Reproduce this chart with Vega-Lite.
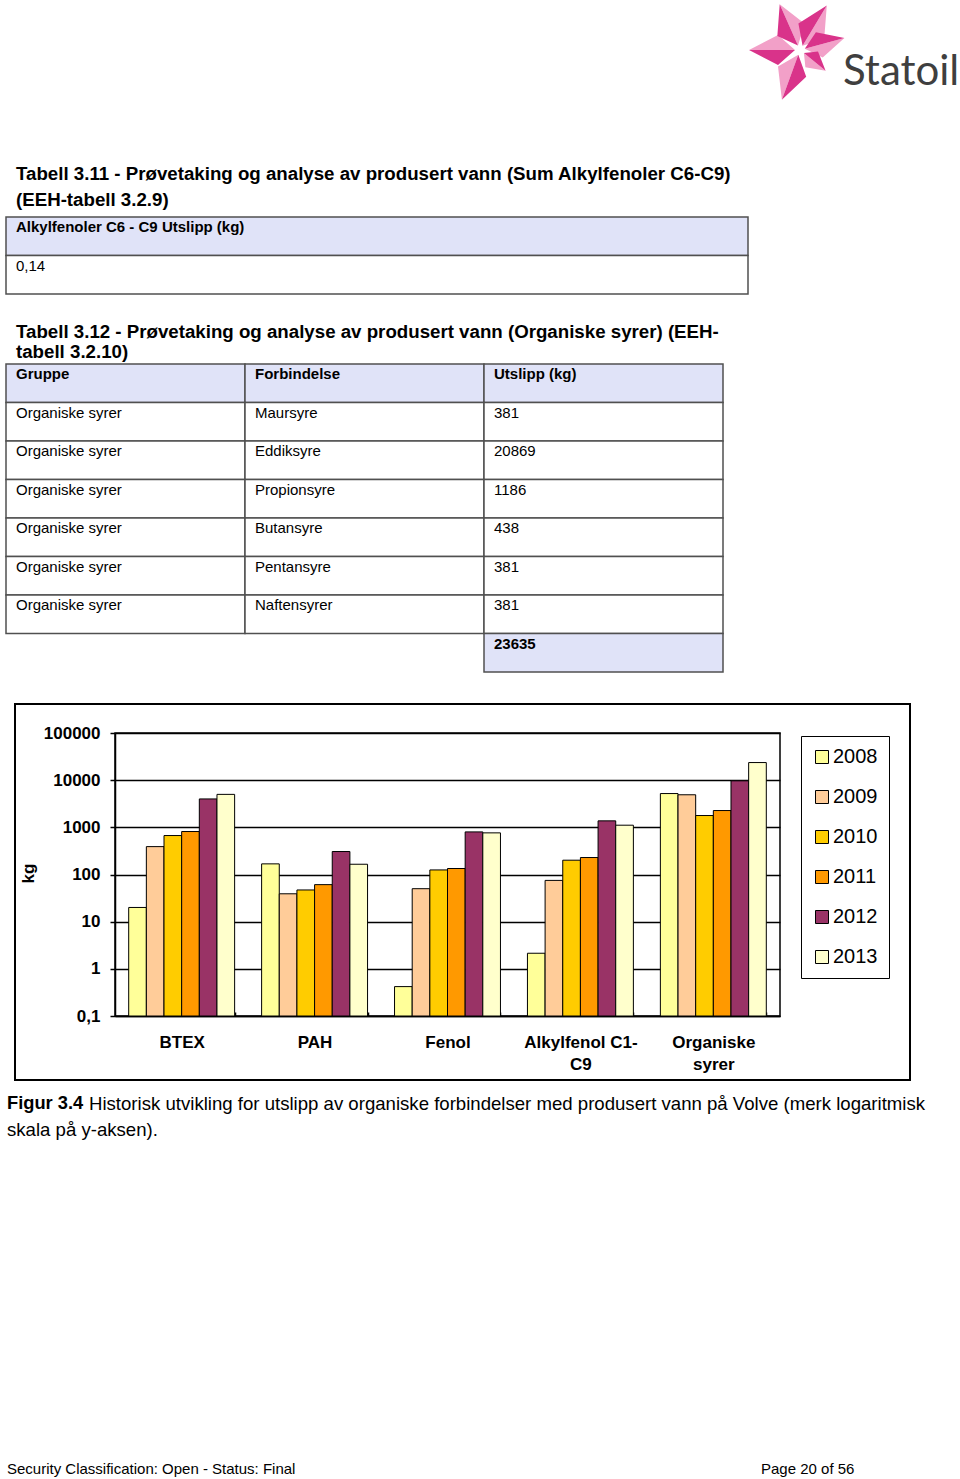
{
  "$schema": "https://vega.github.io/schema/vega-lite/v6.json",
  "background": "white",
  "padding": {"left": 5, "top": 0, "right": 0, "bottom": 0},
  "spacing": 0,
  "resolve": {"scale": {"color": "independent"}, "legend": {"color": "independent"}},
  "config": {
    "view": {"stroke": null},
    "font": "Liberation Sans",
    "text": {"font": "Liberation Sans", "color": "black"}
  },
  "vconcat": [
    {
      "hconcat": [
        {
          "width": 743, "height": 150,
          "data": {"values": [{}]},
          "mark": {"type": "text"},
          "encoding": {"text": {"value": ""}}
        },
        {
          "width": 100, "height": 100,
          "data": {"values": [{"firma": "Statoil"}]},
          "layer": [
            {
              "mark": {"type": "point", "shape": "M-2,-4.6L4.75,-26.2L-20.3,-45.7ZM2.6,-4.3L24.2,-11.2L26.8,-44.6ZM4.8,-1.3L22.7,7.4L44.4,-11.9ZM3.9,3.1L5.4,17.2L25.6,20.8ZM-1.7,4.7L-22,16.5L-18.1,49.8ZM-5,0L-22,-15L-51,0Z", "size": 4, "filled": true, "fill": "#F2A0C8", "opacity": 1, "strokeWidth": 0},
              "encoding": {}
            },
            {
              "mark": {"type": "point", "shape": "M-2,-4.6L-22.65,-14L-20.3,-45.7ZM2.6,-4.3L-1.6,-26.6L26.8,-44.6ZM4.8,-1.3L15.9,-17.8L44.4,-11.9ZM3.9,3.1L18,1.6L25.6,20.8ZM-1.7,4.7L6.2,26.7L-18.1,49.8ZM-5,0L-22,15L-51,0Z", "size": 4, "filled": true, "fill": "#D9338A", "opacity": 1, "strokeWidth": 0},
              "encoding": {}
            },
            {
              "mark": {"type": "text", "align": "left", "baseline": "alphabetic", "dx": 43, "dy": 35, "font": "Lato", "fontSize": 42, "color": "#3f3f3f"},
              "encoding": {"text": {"field": "firma"}}
            }
          ]
        }
      ],
      "spacing": 0
    },
    {
      "width": 742, "height": 66,
      "data": {"values": [
        {"linje": 1, "tekst": "Tabell 3.11 - Prøvetaking og analyse av produsert vann (Sum Alkylfenoler C6-C9)"},
        {"linje": 2, "tekst": "(EEH-tabell 3.2.9)"}
      ]},
      "mark": {"type": "text", "align": "left", "baseline": "middle", "dx": 10, "fontSize": 18.7, "fontWeight": "bold"},
      "encoding": {
        "x": {"datum": 0, "type": "quantitative", "scale": {"domain": [0, 1]}, "axis": null},
        "y": {"field": "linje", "type": "ordinal", "scale": {"type": "point", "range": [24, 50], "padding": 0}, "axis": null},
        "text": {"field": "tekst"}
      }
    },
    {
      "width": 742, "height": 77,
      "data": {"values": [
        {"rad": 0, "kol": 0, "tekst": "Alkylfenoler C6 - C9 Utslipp (kg)", "type": "header"},
        {"rad": 1, "kol": 0, "tekst": "0,14", "type": "body"}
      ]},
      "layer": [
        {
          "mark": {"type": "rect", "stroke": "#505050", "strokeWidth": 1.5},
          "encoding": {
            "x": {"field": "kol", "type": "ordinal", "axis": null, "scale": {"type": "band", "paddingInner": 0, "paddingOuter": 0}},
            "y": {"field": "rad", "type": "ordinal", "axis": null, "scale": {"type": "band", "paddingInner": 0, "paddingOuter": 0}},
            "color": {"field": "type", "type": "nominal", "legend": null, "scale": {"domain": ["header", "body", "total"], "range": ["#E0E3F8", "#FFFFFF", "#E0E3F8"]}}
          }
        },
        {
          "transform": [{"filter": "datum.type == 'body'"}],
          "mark": {"type": "text", "align": "left", "baseline": "top", "dx": 10, "dy": 3, "fontSize": 15},
          "encoding": {
            "x": {"field": "kol", "type": "ordinal", "bandPosition": 0},
            "y": {"field": "rad", "type": "ordinal", "bandPosition": 0},
            "text": {"field": "tekst"}
          }
        },
        {
          "transform": [{"filter": "datum.type != 'body'"}],
          "mark": {"type": "text", "align": "left", "baseline": "top", "dx": 10, "dy": 3, "fontSize": 15, "fontWeight": "bold"},
          "encoding": {
            "x": {"field": "kol", "type": "ordinal", "bandPosition": 0},
            "y": {"field": "rad", "type": "ordinal", "bandPosition": 0},
            "text": {"field": "tekst"}
          }
        }
      ]
    },
    {
      "width": 742, "height": 67.5,
      "data": {"values": [
        {"linje": 1, "tekst": "Tabell 3.12 - Prøvetaking og analyse av produsert vann (Organiske syrer) (EEH-"},
        {"linje": 2, "tekst": "tabell 3.2.10)"}
      ]},
      "mark": {"type": "text", "align": "left", "baseline": "middle", "dx": 10, "fontSize": 18.7, "fontWeight": "bold"},
      "encoding": {
        "x": {"datum": 0, "type": "quantitative", "scale": {"domain": [0, 1]}, "axis": null},
        "y": {"field": "linje", "type": "ordinal", "scale": {"type": "point", "range": [37, 57], "padding": 0}, "axis": null},
        "text": {"field": "tekst"}
      }
    },
    {
      "width": 717, "height": 308,
      "data": {"values": [
        {"rad": 0, "kol": 0, "tekst": "Gruppe", "type": "header"},
        {"rad": 0, "kol": 1, "tekst": "Forbindelse", "type": "header"},
        {"rad": 0, "kol": 2, "tekst": "Utslipp (kg)", "type": "header"},
        {"rad": 1, "kol": 0, "tekst": "Organiske syrer", "type": "body"},
        {"rad": 1, "kol": 1, "tekst": "Maursyre", "type": "body"},
        {"rad": 1, "kol": 2, "tekst": "381", "type": "body"},
        {"rad": 2, "kol": 0, "tekst": "Organiske syrer", "type": "body"},
        {"rad": 2, "kol": 1, "tekst": "Eddiksyre", "type": "body"},
        {"rad": 2, "kol": 2, "tekst": "20869", "type": "body"},
        {"rad": 3, "kol": 0, "tekst": "Organiske syrer", "type": "body"},
        {"rad": 3, "kol": 1, "tekst": "Propionsyre", "type": "body"},
        {"rad": 3, "kol": 2, "tekst": "1186", "type": "body"},
        {"rad": 4, "kol": 0, "tekst": "Organiske syrer", "type": "body"},
        {"rad": 4, "kol": 1, "tekst": "Butansyre", "type": "body"},
        {"rad": 4, "kol": 2, "tekst": "438", "type": "body"},
        {"rad": 5, "kol": 0, "tekst": "Organiske syrer", "type": "body"},
        {"rad": 5, "kol": 1, "tekst": "Pentansyre", "type": "body"},
        {"rad": 5, "kol": 2, "tekst": "381", "type": "body"},
        {"rad": 6, "kol": 0, "tekst": "Organiske syrer", "type": "body"},
        {"rad": 6, "kol": 1, "tekst": "Naftensyrer", "type": "body"},
        {"rad": 6, "kol": 2, "tekst": "381", "type": "body"},
        {"rad": 7, "kol": 2, "tekst": "23635", "type": "total"}
      ]},
      "layer": [
        {
          "mark": {"type": "rect", "stroke": "#505050", "strokeWidth": 1.5},
          "encoding": {
            "x": {"field": "kol", "type": "ordinal", "axis": null, "scale": {"type": "band", "paddingInner": 0, "paddingOuter": 0}},
            "y": {"field": "rad", "type": "ordinal", "axis": null, "scale": {"type": "band", "paddingInner": 0, "paddingOuter": 0}},
            "color": {"field": "type", "type": "nominal", "legend": null, "scale": {"domain": ["header", "body", "total"], "range": ["#E0E3F8", "#FFFFFF", "#E0E3F8"]}}
          }
        },
        {
          "transform": [{"filter": "datum.type == 'body'"}],
          "mark": {"type": "text", "align": "left", "baseline": "top", "dx": 10, "dy": 3, "fontSize": 15},
          "encoding": {
            "x": {"field": "kol", "type": "ordinal", "bandPosition": 0},
            "y": {"field": "rad", "type": "ordinal", "bandPosition": 0},
            "text": {"field": "tekst"}
          }
        },
        {
          "transform": [{"filter": "datum.type != 'body'"}],
          "mark": {"type": "text", "align": "left", "baseline": "top", "dx": 10, "dy": 3, "fontSize": 15, "fontWeight": "bold"},
          "encoding": {
            "x": {"field": "kol", "type": "ordinal", "bandPosition": 0},
            "y": {"field": "rad", "type": "ordinal", "bandPosition": 0},
            "text": {"field": "tekst"}
          }
        }
      ]
    },
    {
      "width": 1, "height": 28.5,
      "data": {"values": [{}]},
      "mark": {"type": "text"},
      "encoding": {"text": {"value": ""}}
    },
    {
      "hconcat": [
        {
          "width": 7, "height": 1,
          "data": {"values": [{}]},
          "mark": {"type": "text"},
          "encoding": {"text": {"value": ""}}
        },
        {
          "width": 665, "height": 283,
          "view": {"stroke": "black", "strokeWidth": 1.5, "fill": "white"},
          "layer": [
            {
              "data": {"values": [{"ramme": "figur"}]},
              "mark": {"type": "rect", "fill": "white", "fillOpacity": 0, "stroke": "black", "strokeWidth": 2},
              "encoding": {
                "x": {"datum": 0, "type": "quantitative", "scale": {"domain": [0, 1], "range": [-100, 795], "nice": false, "zero": false}, "axis": null},
                "x2": {"datum": 1},
                "y": {"datum": 0, "type": "quantitative", "scale": {"domain": [0, 1], "range": [-29, 347], "nice": false, "zero": false}, "axis": null},
                "y2": {"datum": 1}
              }
            },
            {
              "data": {"values": [
                {"gruppe": "BTEX", "aar": "2008", "kg": 20},
                {"gruppe": "BTEX", "aar": "2009", "kg": 390},
                {"gruppe": "BTEX", "aar": "2010", "kg": 670},
                {"gruppe": "BTEX", "aar": "2011", "kg": 815},
                {"gruppe": "BTEX", "aar": "2012", "kg": 4000},
                {"gruppe": "BTEX", "aar": "2013", "kg": 5000},
                {"gruppe": "PAH", "aar": "2008", "kg": 168},
                {"gruppe": "PAH", "aar": "2009", "kg": 39},
                {"gruppe": "PAH", "aar": "2010", "kg": 47},
                {"gruppe": "PAH", "aar": "2011", "kg": 61},
                {"gruppe": "PAH", "aar": "2012", "kg": 307},
                {"gruppe": "PAH", "aar": "2013", "kg": 165},
                {"gruppe": "Fenol", "aar": "2008", "kg": 0.42},
                {"gruppe": "Fenol", "aar": "2009", "kg": 50},
                {"gruppe": "Fenol", "aar": "2010", "kg": 125},
                {"gruppe": "Fenol", "aar": "2011", "kg": 134},
                {"gruppe": "Fenol", "aar": "2012", "kg": 800},
                {"gruppe": "Fenol", "aar": "2013", "kg": 763},
                {"gruppe": "Alkylfenol C1-C9", "aar": "2008", "kg": 2.14},
                {"gruppe": "Alkylfenol C1-C9", "aar": "2009", "kg": 75},
                {"gruppe": "Alkylfenol C1-C9", "aar": "2010", "kg": 201},
                {"gruppe": "Alkylfenol C1-C9", "aar": "2011", "kg": 229},
                {"gruppe": "Alkylfenol C1-C9", "aar": "2012", "kg": 1371},
                {"gruppe": "Alkylfenol C1-C9", "aar": "2013", "kg": 1110},
                {"gruppe": "Organiske syrer", "aar": "2008", "kg": 5200},
                {"gruppe": "Organiske syrer", "aar": "2009", "kg": 4900},
                {"gruppe": "Organiske syrer", "aar": "2010", "kg": 1780},
                {"gruppe": "Organiske syrer", "aar": "2011", "kg": 2270},
                {"gruppe": "Organiske syrer", "aar": "2012", "kg": 9680},
                {"gruppe": "Organiske syrer", "aar": "2013", "kg": 23635}
              ]},
              "mark": {"type": "bar", "stroke": "black", "strokeWidth": 1},
              "encoding": {
                "x": {
                  "field": "gruppe", "type": "nominal",
                  "sort": ["BTEX", "PAH", "Fenol", "Alkylfenol C1-C9", "Organiske syrer"],
                  "scale": {"paddingInner": 0.203, "paddingOuter": 0.103},
                  "axis": {
                    "title": null, "orient": "bottom",
                    "labelExpr": "datum.label == 'Alkylfenol C1-C9' ? ['Alkylfenol C1-', 'C9'] : datum.label == 'Organiske syrer' ? ['Organiske', 'syrer'] : datum.label",
                    "labelFont": "Liberation Sans", "labelFontSize": 17, "labelFontWeight": "bold", "labelColor": "black",
                    "labelAngle": 0, "labelLineHeight": 22, "labelPadding": 22, "labelBaseline": "top",
                    "domainColor": "black", "domainWidth": 1.5,
                    "tickBand": "extent", "tickSize": -4, "tickColor": "black", "tickWidth": 1.5
                  }
                },
                "xOffset": {"field": "aar", "type": "nominal", "scale": {"paddingInner": 0, "paddingOuter": 0}},
                "y": {
                  "field": "kg", "type": "quantitative",
                  "scale": {"type": "log", "domain": [0.1, 100000]},
                  "axis": {
                    "title": "kg", "orient": "left", "values": [0.1, 1, 10, 100, 1000, 10000, 100000],
                    "labelExpr": "datum.value < 1 ? '0,1' : format(datum.value, 'd')",
                    "grid": true, "gridColor": "black", "gridWidth": 1.5, "gridOpacity": 1,
                    "domainColor": "black", "domainWidth": 1.5,
                    "tickColor": "black", "tickSize": 5, "tickWidth": 1.5,
                    "labelFont": "Liberation Sans", "labelFontSize": 17, "labelFontWeight": "bold", "labelColor": "black", "labelPadding": 10,
                    "titleFont": "Liberation Sans", "titleFontSize": 17, "titleFontWeight": "bold", "titleColor": "black",
                    "titleX": -87, "titleY": 140, "titleAngle": -90, "titleBaseline": "middle", "titleAlign": "center"
                  }
                },
                "y2": {"datum": 0.1},
                "color": {
                  "field": "aar", "type": "nominal",
                  "scale": {"domain": ["2008", "2009", "2010", "2011", "2012", "2013"], "range": ["#FFFF99", "#FFCC99", "#FFCC00", "#FF9900", "#993366", "#FFFFCC"]},
                  "legend": {
                    "title": null, "orient": "none", "legendX": 795, "legendY": 3, "direction": "vertical",
                    "strokeColor": "black", "padding": 11,
                    "symbolType": "square", "symbolSize": 169, "symbolStrokeColor": "black", "symbolStrokeWidth": 1,
                    "labelFont": "Liberation Sans", "labelFontSize": 20, "labelColor": "black", "labelOffset": 1, "rowPadding": 20
                  }
                }
              }
            }
          ],
          "resolve": {"scale": {"x": "independent", "y": "independent"}}
        }
      ],
      "spacing": 0
    },
    {
      "width": 955, "height": 60,
      "data": {"values": [
        {"del": "lead", "linje": 1, "tekst": "Figur 3.4"},
        {"del": "body", "linje": 1, "tekst": "Historisk utvikling for utslipp av organiske forbindelser med produsert vann på Volve (merk logaritmisk"},
        {"del": "cont", "linje": 2, "tekst": "skala på y-aksen)."}
      ]},
      "encoding": {
        "x": {"datum": 0, "type": "quantitative", "scale": {"domain": [0, 1]}, "axis": null},
        "y": {"field": "linje", "type": "ordinal", "scale": {"type": "point", "range": [22, 48], "padding": 0}, "axis": null},
        "text": {"field": "tekst"}
      },
      "layer": [
        {"transform": [{"filter": "datum.del == 'lead'"}], "mark": {"type": "text", "align": "left", "baseline": "middle", "dx": 1, "fontSize": 18.3, "fontWeight": "bold"}},
        {"transform": [{"filter": "datum.del == 'body'"}], "mark": {"type": "text", "align": "left", "baseline": "middle", "dx": 83, "fontSize": 18.6}},
        {"transform": [{"filter": "datum.del == 'cont'"}], "mark": {"type": "text", "align": "left", "baseline": "middle", "dx": 1, "fontSize": 18.6}}
      ]
    },
    {
      "width": 1, "height": 315,
      "data": {"values": [{}]},
      "mark": {"type": "text"},
      "encoding": {"text": {"value": ""}}
    },
    {
      "width": 955, "height": 23,
      "data": {"values": [
        {"side": "venstre", "tekst": "Security Classification: Open - Status: Final"},
        {"side": "hoyre", "tekst": "Page 20 of 56"}
      ]},
      "mark": {"type": "text", "align": "left", "baseline": "middle", "fontSize": 15},
      "encoding": {
        "x": {"field": "side", "type": "nominal", "scale": {"type": "point", "domain": ["venstre", "hoyre"], "range": [1, 755], "padding": 0}, "axis": null},
        "text": {"field": "tekst"}
      }
    }
  ]
}
